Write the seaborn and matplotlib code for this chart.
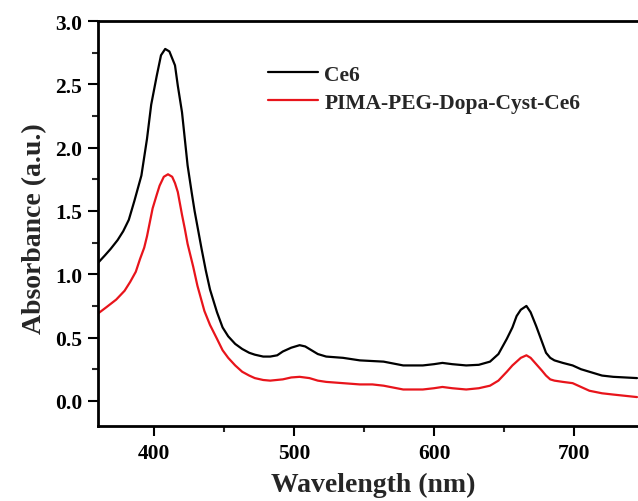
import pandas as pd
import seaborn as sns
import matplotlib.pyplot as plt
from matplotlib.ticker import MultipleLocator

# Ce6 spectrum
wl_ce6 = [360, 365, 369, 374, 378, 382, 386, 391, 395, 398, 402, 405, 408, 411, 415, 417,
          420, 422, 424, 427, 429, 431, 434, 437, 440, 445, 449, 453, 458, 463, 468, 472,
          478, 483, 488, 492, 498, 504, 508, 511, 517, 523, 535, 547, 564, 578, 592, 600,
          606, 613, 623, 632, 640, 646, 652, 656, 659, 662, 666, 669, 673, 677, 680, 683,
          686, 692, 699, 705, 711, 720, 728, 745]
ce6 = [1.09, 1.15, 1.20, 1.27, 1.34, 1.43, 1.58, 1.78, 2.07, 2.34, 2.57, 2.73, 2.78, 2.76,
       2.65, 2.49, 2.28, 2.07, 1.86, 1.64, 1.50, 1.38, 1.20, 1.03, 0.88, 0.70, 0.58, 0.51,
       0.45, 0.41, 0.38, 0.365, 0.35, 0.35, 0.36, 0.39, 0.42, 0.44, 0.43, 0.41, 0.37, 0.35,
       0.34, 0.32, 0.31, 0.28, 0.28, 0.29, 0.30, 0.29, 0.28, 0.285, 0.31, 0.37, 0.49, 0.58,
       0.67, 0.72, 0.75, 0.70, 0.59, 0.47, 0.38, 0.34, 0.32, 0.30, 0.28, 0.25, 0.23, 0.20,
       0.19, 0.18]

# PIMA-PEG-Dopa-Cyst-Ce6 spectrum
wl_conj = [360, 366, 373, 379, 383, 387, 390, 393, 395, 397, 399, 402, 404, 407, 410, 413,
           415, 417, 420, 422, 424, 428, 431, 436, 440, 445, 449, 453, 458, 463, 468, 472,
           478, 483, 492, 498, 504, 511, 517, 523, 535, 547, 556, 564, 578, 592, 600, 606,
           613, 623, 632, 640, 646, 652, 656, 659, 662, 666, 669, 673, 677, 680, 683, 686,
           692, 699, 705, 711, 720, 728, 745]
conj = [0.69, 0.74, 0.80, 0.87, 0.94, 1.02, 1.12, 1.21, 1.30, 1.41, 1.52, 1.63, 1.70, 1.77,
        1.79, 1.77, 1.72, 1.65, 1.47, 1.36, 1.24, 1.06, 0.91, 0.71, 0.60, 0.49, 0.40, 0.34,
        0.28, 0.23, 0.20, 0.18, 0.165, 0.16, 0.17, 0.185, 0.19, 0.18, 0.16, 0.15, 0.14, 0.13,
        0.13, 0.12, 0.09, 0.09, 0.10, 0.11, 0.10, 0.09, 0.10, 0.12, 0.16, 0.23, 0.28, 0.31,
        0.34, 0.36, 0.34, 0.29, 0.24, 0.20, 0.17, 0.16, 0.15, 0.14, 0.11, 0.08, 0.06, 0.05,
        0.03]

names = ["Ce6", "PIMA-PEG-Dopa-Cyst-Ce6"]
colors = ["black", "#e8141b"]

df = pd.concat([
    pd.DataFrame({"wl": wl_ce6, "abs": ce6, "sample": names[0]}),
    pd.DataFrame({"wl": wl_conj, "abs": conj, "sample": names[1]}),
])

sns.set_theme(style="ticks")
plt.rcParams["font.family"] = ["Liberation Serif", "DejaVu Serif"]
plt.rcParams["font.weight"] = "bold"

fig = plt.figure(figsize=(6.38, 5.02), dpi=100)
ax = fig.add_axes([0.1536, 0.149, 0.8464, 0.807])

sns.lineplot(data=df, x="wl", y="abs", hue="sample", palette=dict(zip(names, colors)),
             estimator=None, sort=True, linewidth=1.6, ax=ax)

ax.set_xlim(360, 745.7)
ax.set_ylim(-0.2, 3.0)
ax.xaxis.set_major_locator(MultipleLocator(100))
ax.xaxis.set_minor_locator(MultipleLocator(50))
ax.yaxis.set_major_locator(MultipleLocator(0.5))
ax.yaxis.set_minor_locator(MultipleLocator(0.25))
ax.yaxis.set_major_formatter(plt.FormatStrFormatter("%.1f"))

for s in ["left", "bottom", "top"]:
    ax.spines[s].set_linewidth(2.0)
    ax.spines[s].set_color("black")
ax.spines["right"].set_visible(False)

ax.tick_params(which="major", direction="out", length=7, width=1.5, labelsize=15.5,
               colors="black", top=False, right=False)
ax.tick_params(which="minor", direction="out", length=4.5, width=1.5, top=False, right=False)
ax.tick_params(axis="x", which="major", pad=5)
ax.tick_params(axis="y", which="major", pad=4.5)
for lab in ax.get_xticklabels() + ax.get_yticklabels():
    lab.set_fontweight("bold")

ax.set_xlabel("Wavelength (nm)", fontsize=20, fontweight="bold")
ax.set_ylabel("Absorbance (a.u.)", fontsize=20, fontweight="bold")
ax.xaxis.set_label_coords(0.51, -0.112)
ax.yaxis.set_label_coords(-0.095, 0.49)

leg = ax.legend(loc="upper left", bbox_to_anchor=(0.315, 0.892), frameon=False,
                fontsize=15.5, handlelength=2.33, handletextpad=0.28, labelspacing=0.36,
                borderpad=0, borderaxespad=0)
for t in leg.get_texts():
    t.set_fontweight("bold")
for l in leg.get_lines():
    l.set_linewidth(1.6)

fig.savefig("out.png", dpi=100)
